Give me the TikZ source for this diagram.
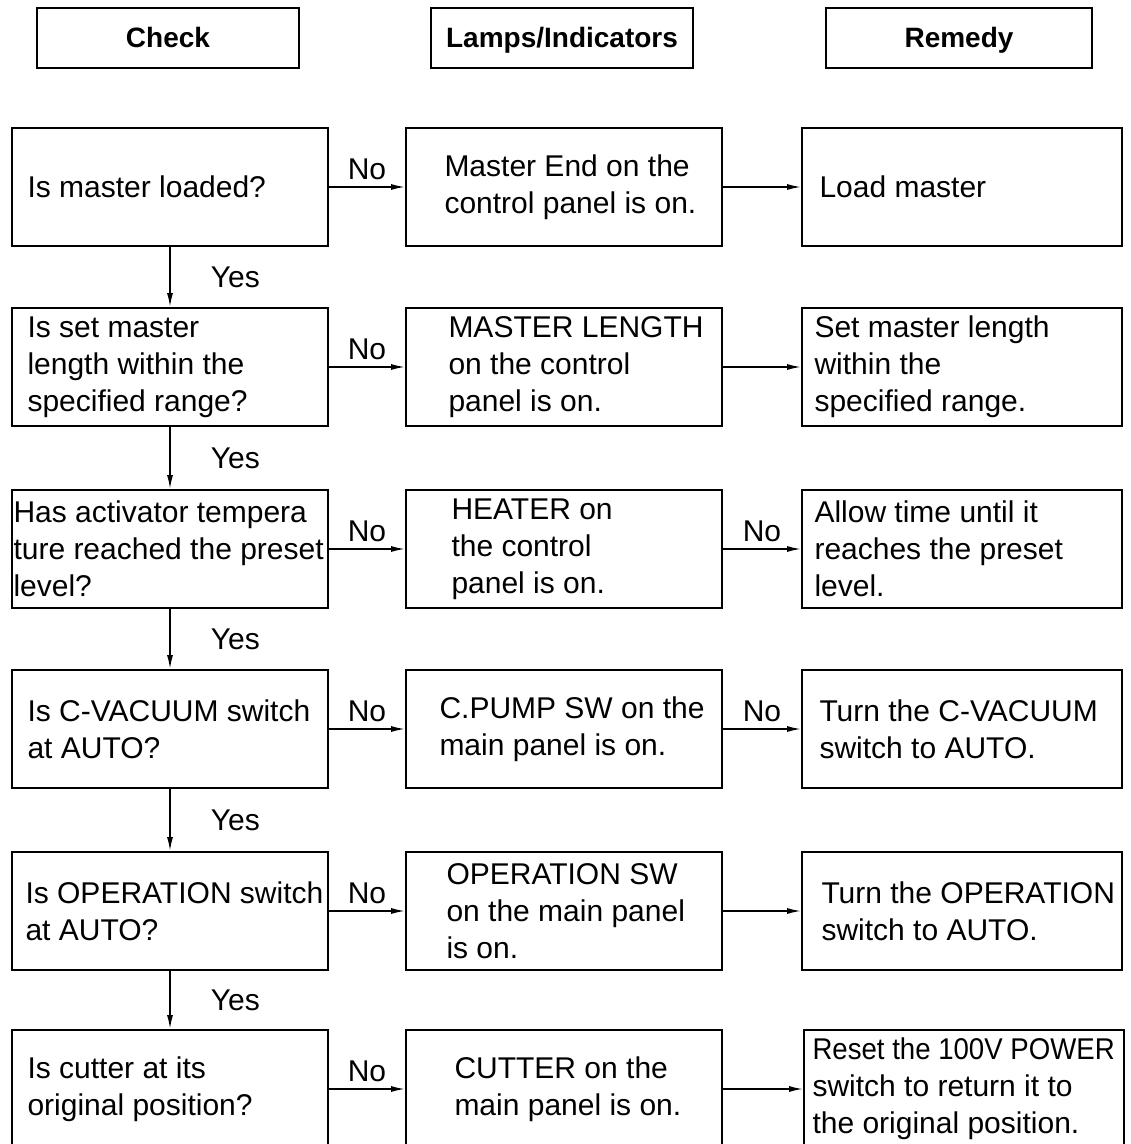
\documentclass[tikz,border=0pt]{standalone}
\usepackage{fontspec}
\setmainfont{Liberation Sans}
\newfontfamily\narrowfont[FakeStretch=0.92]{Liberation Sans}
\usetikzlibrary{positioning,arrows.meta}

\begin{document}
\begin{tikzpicture}[x=0.5pt,y=-0.5pt,
		head/.style={draw,line width=0.9pt,minimum width=131pt,minimum height=30pt,inner sep=0pt,text height=10pt,text depth=0pt,font=\fontsize{14}{16}\selectfont\bfseries},
		box/.style={draw,line width=0.9pt,minimum width=158pt,minimum height=59pt,inner sep=0pt},
		txt/.style={anchor=west,align=left,inner sep=0pt,font=\fontsize{15}{18.5}\selectfont},
		arr/.style={-{Latex[length=7pt,width=3pt]},line width=0.8pt},
		lbl/.style={inner sep=2pt,font=\fontsize{15}{18}\selectfont}]
		\clip (0,0) rectangle (1130,1144);
		% column heads
		\node[head] (hcheck) at (168,38) {Check};
		\node[head] (hlamp) at (562,38) {Lamps/Indicators};
		\node[head,minimum width=133pt] (hremedy) at (959,38) {Remedy};
		% check column
		\node[box] (c1) at (170,187) {};
		\node[box] (c2) at (170,367) {};
		\node[box] (c3) at (170,549) {};
		\node[box] (c4) at (170,729) {};
		\node[box] (c5) at (170,911) {};
		\node[box] (c6) at (170,1089) {};
		\node[txt] (tc1) at ([xshift=8pt]c1.west) {Is master loaded?};
		\node[txt] (tc2) at ([xshift=8pt]c2.west) {Is set master\\length within the\\specified range?};
		\node[txt] (tc3) at ([xshift=1pt]c3.west) {Has activator tempera\\ture reached the preset\\level?};
		\node[txt] (tc4) at ([xshift=8pt]c4.west) {Is C-VACUUM switch\\at AUTO?};
		\node[txt] (tc5) at ([xshift=7pt]c5.west) {Is OPERATION switch\\at AUTO?};
		\node[txt] (tc6) at ([xshift=8pt]c6.west) {Is cutter at its\\original position?};
		% lamps column
		\node[box] (l1) at (564,187) {};
		\node[box] (l2) at (564,367) {};
		\node[box] (l3) at (564,549) {};
		\node[box] (l4) at (564,729) {};
		\node[box] (l5) at (564,911) {};
		\node[box] (l6) at (564,1089) {};
		\node[txt] (tl1) at ([xshift=19.5pt]l1.west) {Master End on the\\control panel is on.};
		\node[txt] (tl2) at ([xshift=21.5pt]l2.west) {MASTER LENGTH\\on the control\\panel is on.};
		\node[txt] (tl3) at ([xshift=23pt]l3.west) {HEATER on\\the control\\panel is on.};
		\node[txt] (tl4) at ([xshift=17pt]l4.west) {C.PUMP SW on the\\main panel is on.};
		\node[txt] (tl5) at ([xshift=20.5pt]l5.west) {OPERATION SW\\on the main panel\\is on.};
		\node[txt] (tl6) at ([xshift=24.5pt]l6.west) {CUTTER on the\\main panel is on.};
		% remedy column
		\node[box,minimum width=160pt] (r1) at (962,187) {};
		\node[box,minimum width=160pt] (r2) at (962,367) {};
		\node[box,minimum width=160pt] (r3) at (962,549) {};
		\node[box,minimum width=160pt] (r4) at (962,729) {};
		\node[box,minimum width=160pt] (r5) at (962,911) {};
		\node[box,minimum width=160pt] (r6) at (964,1089) {};
		\node[txt] (tr1) at ([xshift=9pt]r1.west) {Load master};
		\node[txt] (tr2) at ([xshift=6.5pt]r2.west) {Set master length\\within the\\specified range.};
		\node[txt] (tr3) at ([xshift=6.5pt]r3.west) {Allow time until it\\reaches the preset\\level.};
		\node[txt] (tr4) at ([xshift=9pt]r4.west) {Turn the C-VACUUM\\switch to AUTO.};
		\node[txt] (tr5) at ([xshift=10pt]r5.west) {Turn the OPERATION\\switch to AUTO.};
		\node[txt] (tr6) at ([xshift=4.5pt]r6.west) {{\narrowfont Reset the 100V POWER}\\switch to return it to\\the original position.};
		% yes arrows
		\foreach \a/\b in {c1/c2,c2/c3,c3/c4,c4/c5,c5/c6}
			\draw[arr] (\a) -- (\b) node[lbl,midway,right=18pt]{Yes};
		% no arrows
		\foreach \n in {1,...,6}
			\draw[arr] (c\n) -- (l\n) node[lbl,midway,above=1pt]{No};
		\draw[arr] (l1) -- (r1);
		\draw[arr] (l2) -- (r2);
		\draw[arr] (l3) -- (r3) node[lbl,midway,above=1pt]{No};
		\draw[arr] (l4) -- (r4) node[lbl,midway,above=1pt]{No};
		\draw[arr] (l5) -- (r5);
		\draw[arr] (l6) -- (r6);
	\end{tikzpicture}
\end{document}
